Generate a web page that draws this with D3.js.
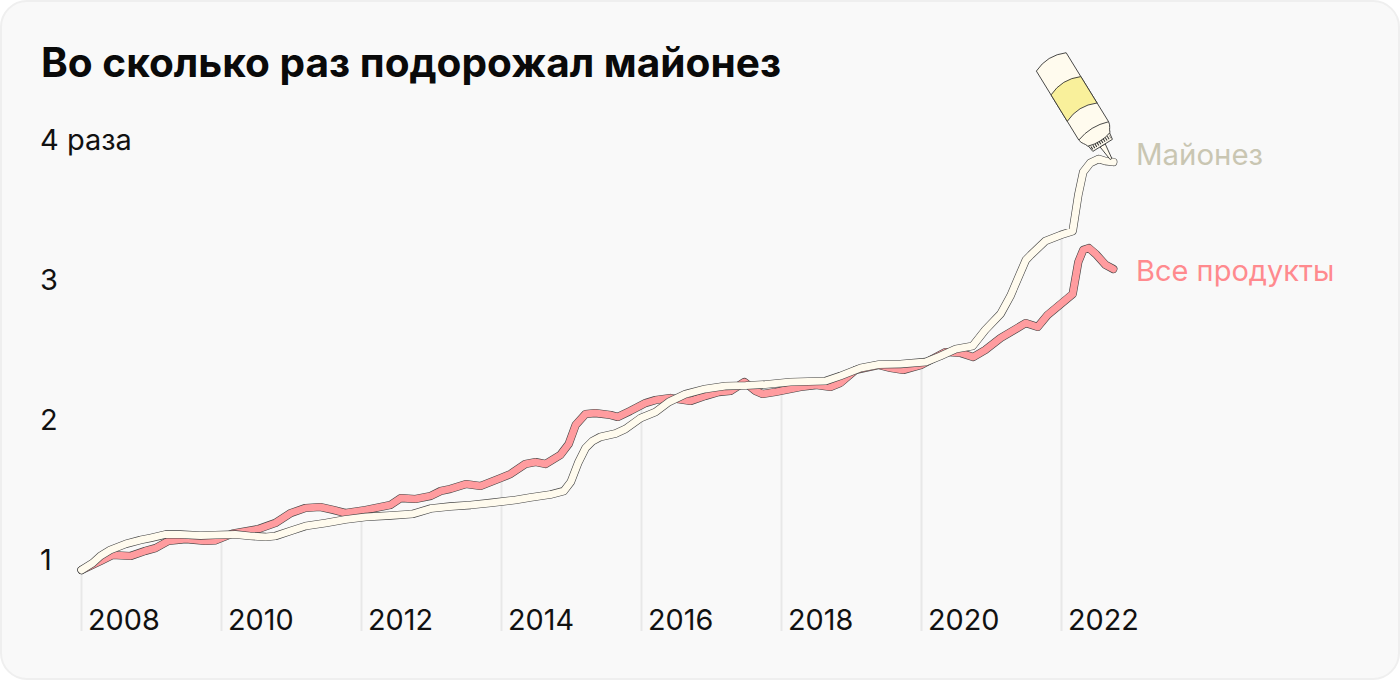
<!DOCTYPE html>
<html><head><meta charset="utf-8">
<script src="https://cdn.jsdelivr.net/npm/d3@7"></script>
<style>html,body{margin:0;padding:0;background:#fff}svg{display:block}text{font-family:Inter,Roboto,sans-serif}</style>
</head><body><svg id="c" width="1400" height="680"></svg>
<script>
const title = "Во сколько раз подорожал майонез";
const yTicks = [1,2,3,4];
const yLabels = ["1","2","3","4 раза"];
const xTicks = [2008,2010,2012,2014,2016,2018,2020,2022];
const seriesNames = ["Все продукты","Майонез"];
const foodT = [2008,2008.27,2008.44,2008.7,2008.91,2009.06,2009.24,2009.49,2009.77,2009.91,2010.16,2010.53,2010.77,2010.99,2011.2,2011.41,2011.6,2011.77,2012.06,2012.41,2012.56,2012.77,2012.99,2013.13,2013.27,2013.49,2013.7,2013.99,2014.13,2014.34,2014.49,2014.63,2014.84,2014.96,2015.06,2015.2,2015.34,2015.56,2015.66,2015.84,2016.06,2016.2,2016.41,2016.7,2016.91,2017.1,2017.27,2017.47,2017.63,2017.73,2017.91,2018.27,2018.49,2018.7,2018.84,2019.06,2019.39,2019.56,2019.74,2019.99,2020.34,2020.56,2020.74,2020.91,2021.13,2021.49,2021.66,2021.8,2022.16,2022.24,2022.31,2022.39,2022.49,2022.63,2022.74];
const foodV = [1,1.064,1.107,1.1,1.136,1.157,1.207,1.221,1.207,1.211,1.261,1.293,1.336,1.407,1.443,1.45,1.429,1.407,1.429,1.464,1.514,1.507,1.529,1.564,1.579,1.614,1.6,1.657,1.686,1.757,1.771,1.757,1.821,1.9,2.036,2.114,2.121,2.107,2.093,2.136,2.193,2.214,2.229,2.207,2.243,2.271,2.279,2.343,2.279,2.257,2.271,2.307,2.321,2.307,2.336,2.429,2.464,2.443,2.429,2.464,2.557,2.55,2.521,2.571,2.657,2.764,2.736,2.821,2.971,3.2,3.286,3.3,3.257,3.179,3.15];
const mayoT = [2008,2008.16,2008.27,2008.41,2008.63,2008.84,2008.99,2009.2,2009.41,2009.7,2009.91,2010.2,2010.41,2010.63,2010.77,2010.99,2011.2,2011.49,2011.77,2012.06,2012.41,2012.73,2012.99,2013.27,2013.56,2013.84,2014.2,2014.41,2014.7,2014.89,2014.99,2015.1,2015.2,2015.3,2015.41,2015.63,2015.77,2015.99,2016.2,2016.39,2016.63,2016.91,2017.2,2017.49,2017.77,2018.13,2018.63,2018.84,2019.13,2019.39,2019.7,2020.06,2020.27,2020.49,2020.73,2020.91,2021.13,2021.27,2021.49,2021.56,2021.77,2021.99,2022.16,2022.24,2022.31,2022.41,2022.53,2022.63,2022.74];
const mayoV = [1,1.05,1.1,1.143,1.186,1.214,1.229,1.254,1.254,1.246,1.25,1.254,1.243,1.236,1.243,1.279,1.314,1.336,1.361,1.379,1.389,1.4,1.439,1.454,1.464,1.479,1.5,1.518,1.539,1.564,1.629,1.771,1.871,1.921,1.95,1.975,2.007,2.086,2.129,2.2,2.257,2.293,2.314,2.318,2.325,2.343,2.35,2.386,2.443,2.468,2.471,2.486,2.529,2.579,2.6,2.714,2.829,2.957,3.214,3.25,3.35,3.393,3.421,3.679,3.843,3.907,3.936,3.921,3.914];

const svg = d3.select("#c");
const x = d3.scaleLinear().domain([2008,2022]).range([81.5,1061.5]);
const y = d3.scaleLinear().domain([1,4]).range([570,150]);
const interp = (ts,vs,t)=>{const i=Math.min(Math.max(d3.bisectLeft(ts,t),1),ts.length-1);const k=(t-ts[i-1])/(ts[i]-ts[i-1]);return vs[i-1]+k*(vs[i]-vs[i-1]);};

svg.append("rect").attr("x",1).attr("y",1).attr("width",1398).attr("height",678).attr("rx",26)
  .attr("fill","#F9F9F9").attr("stroke","#EFEFEF").attr("stroke-width",2);
svg.append("text").attr("x",41).attr("y",77).attr("font-size",40.6).attr("font-weight",700).attr("fill","#0A0A0A").text(title);

// grid
svg.append("g").selectAll("line").data(xTicks).join("line")
  .attr("x1",d=>x(d)).attr("x2",d=>x(d))
  .attr("y1",d=>y(Math.max(interp(foodT,foodV,d),interp(mayoT,mayoV,d))))
  .attr("y2",631).attr("stroke","#E8E8E8").attr("stroke-width",2);

// axis labels
svg.append("g").selectAll("text").data(xTicks).join("text")
  .attr("x",d=>x(d)+6.5).attr("y",630).attr("font-size",28.8).attr("fill","#111").text(d=>d);
svg.append("g").selectAll("text").data(yTicks).join("text")
  .attr("x",40).attr("y",d=>y(d)).attr("font-size",29).attr("fill","#111").text((d,i)=>yLabels[i]);

const line = d3.line().x(d=>x(d[0])).y(d=>y(d[1])).curve(d3.curveLinear);
const foodPts = d3.zip(foodT,foodV), mayoPts = d3.zip(mayoT,mayoV);
function band(pts,fill){
  const g = svg.append("g").attr("fill","none").attr("stroke-linejoin","round").attr("stroke-linecap","round");
  g.append("path").attr("d",line(pts)).attr("stroke","#444").attr("stroke-width",8.2);
  g.append("path").attr("d",line(pts)).attr("stroke",fill).attr("stroke-width",7);
}
band(foodPts,"#FF9C9F");
band(mayoPts,"#FFFBEE");

// series labels
svg.append("text").attr("x",1136).attr("y",165).attr("font-size",29.4).attr("fill","#C9C6B2").text(seriesNames[1]);
svg.append("text").attr("x",1136).attr("y",281).attr("font-size",29).attr("fill","#FF8A8E").text(seriesNames[0]);

// bottle illustration, local frame: origin at nozzle tip, -y along the bottle
const b = svg.append("g").attr("transform","translate(1111,159) rotate(-31.6)")
  .attr("stroke","#333").attr("stroke-width",0.8).attr("stroke-linejoin","round");
b.append("path").attr("fill","#FFFBEE").attr("d","M-1,0 L-3,-16 L3,-16 L1,0 Z");
b.append("path").attr("fill","#FFFBEE").attr("d","M-11.5,-16 L11.5,-16 L12.5,-23 L-12.5,-23 Z");
b.append("path").attr("fill","#FFFBEE").attr("d","M-13,-23 C-14,-27 -17,-28 -17.5,-33 L-17.5,-114 Q0,-122 17.5,-114 L17.5,-33 C17,-28 14,-27 13,-23 Q0,-19 -13,-23 Z");
b.append("path").attr("fill","#F9F09B").attr("d","M-17.5,-55 Q0,-63 17.5,-55 L17.5,-86 Q0,-94 -17.5,-86 Z");
b.append("path").attr("fill","none").attr("d","M-17.5,-33 Q0,-39 17.5,-33");
b.append("path").attr("fill","none").attr("stroke-dasharray","1 1.4").attr("stroke-width",3.5).attr("d","M-11,-19.5 L11,-19.5");
</script></body></html>
